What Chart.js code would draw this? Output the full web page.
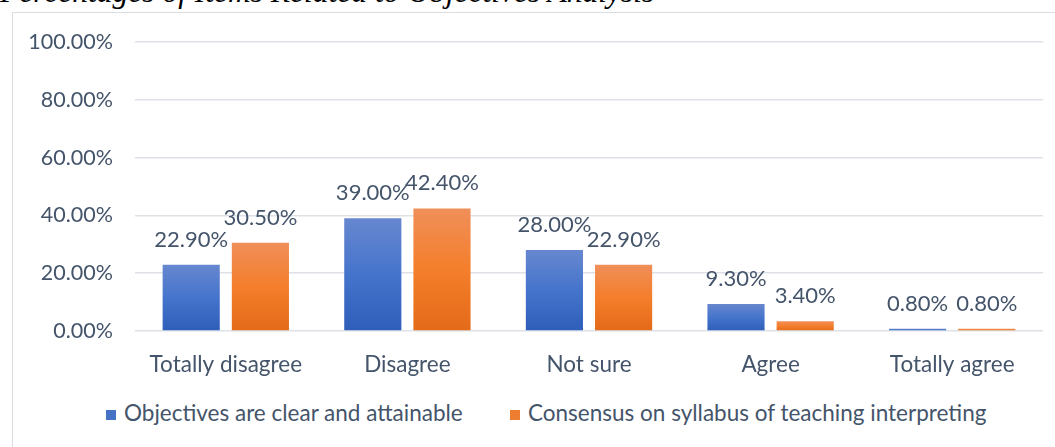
<!DOCTYPE html>
<html>
<head>
<meta charset="utf-8">
<script src="https://cdn.jsdelivr.net/npm/chart.js@4/dist/chart.umd.min.js"></script>
<style>
  html, body { margin: 0; padding: 0; background: #fff; width: 1055px; height: 447px; overflow: hidden; position: relative; }
  #title { position: absolute; left: 0; top: -26px; font-family: "Liberation Serif", "DejaVu Serif", serif; font-style: italic; font-size: 31.5px; color: #000; white-space: nowrap; }
  #box { position: absolute; left: 12px; top: 12px; width: 1060px; height: 460px; border: 1.5px solid #D9DDE2; box-sizing: border-box; }
  #wrap { position: absolute; left: 12px; top: 12px; width: 1043px; height: 385px; }
  .leg { position: absolute; top: 400px; font-family: Lato, "Open Sans", sans-serif; font-size: 22.5px; color: #44546A; white-space: nowrap; line-height: 26px; }
  .leg i { display: inline-block; width: 10px; height: 10px; margin-right: 8px; vertical-align: 1px; }
</style>
</head>
<body>
<div id="title">Percentages of Items Related to Objectives Analysis</div>
<div id="box"></div>
<div id="wrap"><canvas id="c"></canvas></div>
<div class="leg" id="leg0" style="left:106px"><i style="background:#4472C4"></i><span></span></div>
<div class="leg" id="leg1" style="left:510px"><i style="background:#ED7D31"></i><span></span></div>
<script>
const categories = ["Totally disagree", "Disagree", "Not sure", "Agree", "Totally agree"];
const seriesNames = ["Objectives are clear and attainable", "Consensus on syllabus of teaching interpreting"];
const objectivesClear = [22.9, 39.0, 28.0, 9.3, 0.8];
const consensusSyllabus = [30.5, 42.4, 22.9, 3.4, 0.8];
const yTicks = [0, 20, 40, 60, 80, 100];

document.querySelector("#leg0 span").textContent = seriesNames[0];
document.querySelector("#leg1 span").textContent = seriesNames[1];

const FONT = "Lato, 'Open Sans', sans-serif";
const TXT = "#44546A";

function barGrad(top, mid, bottom) {
  return function(c) {
    const chart = c.chart;
    const ca = chart.chartArea;
    if (!ca || c.raw === undefined) return mid;
    const scale = chart.scales.y;
    let y0 = scale.getPixelForValue(c.raw);
    const y1 = scale.getPixelForValue(0);
    if (y1 - y0 < 1) y0 = y1 - 1;
    const g = chart.ctx.createLinearGradient(0, y0, 0, y1);
    g.addColorStop(0, top);
    g.addColorStop(0.5, mid);
    g.addColorStop(1, bottom);
    return g;
  };
}

const labelPlugin = {
  id: "valueLabels",
  afterDatasetsDraw(chart) {
    const ctx = chart.ctx;
    ctx.save();
    ctx.font = "22px " + FONT;
    ctx.fillStyle = TXT;
    ctx.textAlign = "center";
    ctx.textBaseline = "alphabetic";
    chart.data.datasets.forEach((ds, i) => {
      const meta = chart.getDatasetMeta(i);
      meta.data.forEach((bar, j) => {
        ctx.fillText(ds.data[j].toFixed(2) + "%", bar.x, bar.y - 18);
      });
    });
    ctx.restore();
  }
};

new Chart(document.getElementById("c"), {
  type: "bar",
  data: {
    labels: categories,
    datasets: [
      { label: seriesNames[0], data: objectivesClear, backgroundColor: barGrad("#6787CF", "#4574CC", "#2F5EBA"), categoryPercentage: 0.762, barPercentage: 0.826 },
      { label: seriesNames[1], data: consensusSyllabus, backgroundColor: barGrad("#F08F59", "#F47E2B", "#E36A18"), categoryPercentage: 0.762, barPercentage: 0.826 }
    ]
  },
  options: {
    responsive: true,
    maintainAspectRatio: false,
    animation: false,
    layout: { padding: { left: 0, right: 12, top: 30, bottom: 0 } },
    plugins: {
      legend: { display: false },
      tooltip: { enabled: false }
    },
    scales: {
      x: {
        afterFit(scale) { scale.height = 66; scale.paddingLeft = 0; scale.paddingRight = 0; },
        grid: { display: false },
        border: { display: false },
        ticks: { font: { size: 22.5, family: FONT }, color: TXT, padding: 12 }
      },
      y: {
        min: 0, max: 100,
        afterFit(scale) { scale.width = 123; scale.paddingTop = 0; scale.paddingBottom = 0; },
        afterBuildTicks(scale) { scale.ticks = yTicks.map(v => ({ value: v })); },
        grid: { color: "#DEE2E7", lineWidth: 1.5, drawTicks: false },
        border: { display: false },
        ticks: { font: { size: 21.5, family: FONT }, color: TXT, padding: 22, callback: v => v.toFixed(2) + "%" }
      }
    }
  },
  plugins: [labelPlugin]
});
</script>
</body>
</html>
